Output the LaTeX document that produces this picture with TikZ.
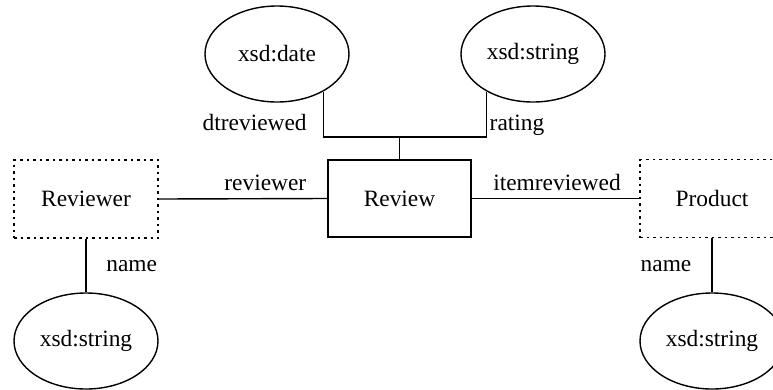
\documentclass[tikz,border=0pt]{standalone}
\usepackage{fontspec}
\setmainfont{Liberation Serif}
\usetikzlibrary{shapes.geometric}
\tikzset{
  every node/.style={font=\fontsize{23.4}{28}\selectfont},
  conn/.style={line width=1.4pt},
  classbox/.style={draw, line width=1.4pt, rectangle, minimum width=143pt, minimum height=77pt, inner sep=0pt},
  extbox/.style={draw, line width=1.4pt, dash pattern=on 2.5pt off 4pt, rectangle, minimum width=144pt, minimum height=78pt, inner sep=0pt},
  typeell/.style={draw, line width=1.4pt, ellipse, minimum width=144pt, minimum height=96pt, inner sep=0pt},
  lbl/.style={anchor=base, inner sep=0pt}
}
\begin{document}
\begin{tikzpicture}[x=1pt,y=-1pt]
\useasboundingbox (0,0) rectangle (773,389);
% nodes
\node[classbox] (review) at (399.5,198.5) {Review};
\node[extbox] (reviewer) at (86,199) {Reviewer};
\node[extbox] (product) at (712,198.5) {Product};
\node[typeell] (date) at (277,54) {xsd:date};
\node[typeell] (str) at (533,54) {xsd:string};
\node[typeell] (s1) at (86,341) {xsd:string};
\node[typeell] (s2) at (712,341) {xsd:string};
% connectors
\coordinate (j) at (399.5,137);
\draw[conn] (date.-39) |- (j) -| (str.-141);
\draw[conn] (j) -- (review.north);
\draw[conn] (reviewer.east) -- (review.west);
\draw[conn] (review.east) -- (product.west);
\draw[conn] (reviewer.south) -- (s1.north);
\draw[conn] (product.south) -- (s2.north);
% labels
\node[lbl] (l1) at (254.7,130) {dtreviewed};
\node[lbl] (l2) at (517,130) {rating};
\node[lbl] (l3) at (265.3,190) {reviewer};
\node[lbl] (l4) at (557,190) {itemreviewed};
\node[lbl] (l5) at (131.7,271.7) {name};
\node[lbl] (l6) at (666,271.7) {name};
\end{tikzpicture}
\end{document}
